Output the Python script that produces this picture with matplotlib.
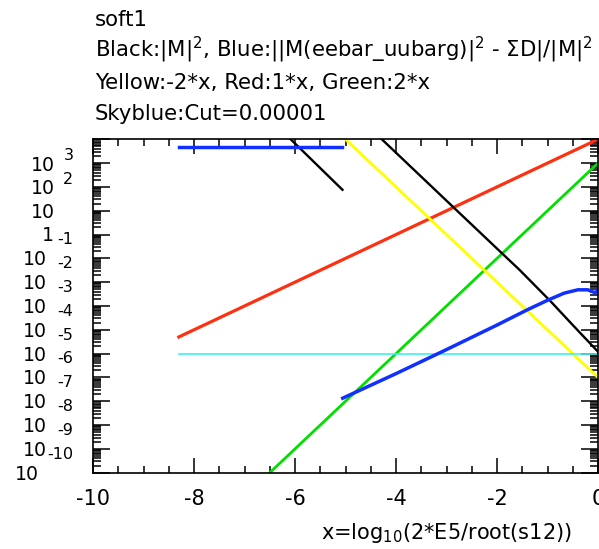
import numpy as np
import matplotlib
matplotlib.use('Agg')
import matplotlib.pyplot as plt
from matplotlib.ticker import MultipleLocator, LogLocator, NullFormatter
import matplotlib.transforms as mtransforms

plt.rcParams['font.family'] = ['DejaVu Sans']
plt.rcParams['axes.unicode_minus'] = False

# данные (x, log10(y))
blue1_x = [-8.30, -5.06]
blue1_log = [3.665, 3.665]
blue2_x = [-5.055, -4.0, -3.0, -2.0, -1.40, -1.0, -0.67, -0.40, -0.20, -0.05, 0.0]
blue2_log = [-6.87, -5.84, -4.83, -3.80, -3.16, -2.76, -2.46, -2.32, -2.32, -2.45, -2.30]
black1_x = [-8.30, -6.07, -5.06]
black1_log = [8.6, 3.97, 1.88]
black2_x = [-5.06, -4.28, -2.86, -1.90, -1.56, -0.94, -0.50, 0.0]
black2_log = [5.55, 4.0, 1.14, -0.79, -1.47, -2.80, -3.80, -4.92]
yellow_x = [-5.0, 0.0]
yellow_log = [4.0, -6.0]
red_x = [-8.30, 0.0]
red_log = [-4.30, 4.0]
green_x = [-8.30, 0.0]
green_log = [-13.6, 3.0]
cut_x = [-8.30, 0.0]
cut_log = [-5.0, -5.0]

decades = list(range(-10, 4))

W, H = 599, 549
fig = plt.figure(figsize=(W / 100, H / 100), dpi=100)
ax = fig.add_axes([93 / W, 76.3 / H, 505 / W, 333.4 / H])

ax.plot(red_x, np.power(10.0, red_log), color='#ff3010', lw=2.3)
ax.plot(green_x, np.power(10.0, green_log), color='#00e000', lw=2.0)
ax.plot(yellow_x, np.power(10.0, yellow_log), color='#ffff00', lw=2.0)
ax.plot(cut_x, np.power(10.0, cut_log), color='#40f0f0', lw=1.2)
ax.plot(black1_x, np.power(10.0, black1_log), color='black', lw=1.7)
ax.plot(black2_x, np.power(10.0, black2_log), color='black', lw=1.7)
ax.plot(blue1_x, np.power(10.0, blue1_log), color='#1030ff', lw=2.5)
ax.plot(blue2_x, np.power(10.0, blue2_log), color='#1030ff', lw=2.5)

ax.set_yscale('log')
ax.set_xlim(-10, 0)
ax.set_ylim(1e-10, 1e4)

ax.xaxis.set_major_locator(MultipleLocator(2))
ax.xaxis.set_minor_locator(MultipleLocator(0.5))
ax.yaxis.set_major_locator(LogLocator(base=10, numticks=30))
ax.yaxis.set_minor_locator(LogLocator(base=10, subs=np.arange(2, 10), numticks=30))
ax.yaxis.set_minor_formatter(NullFormatter())
ax.set_yticklabels([])

ax.tick_params(axis='both', which='both', direction='in', top=True, right=True, width=1.1)
ax.tick_params(axis='x', which='major', length=11, labelsize=15, pad=12)
ax.tick_params(axis='x', which='minor', length=5)
ax.tick_params(axis='y', which='major', length=12)
ax.tick_params(axis='y', which='minor', length=6)
for sp in ax.spines.values():
    sp.set_linewidth(1.2)

# подписи оси y в стиле ROOT (показатели степени съехали на декаду вверх)
trans = ax.get_yaxis_transform()
def fx(px):
    return (px - 93) / 505.0

def shifted(dy):
    # dy в пикселях вниз
    return mtransforms.offset_copy(trans, fig=fig, y=-dy, units='dots')

base_fs = 13.6
exp_fs = 11.5
for k in decades:
    y = 10.0 ** k
    if k == 0:
        ax.text(fx(54), y, '1', transform=shifted(6.9), ha='right', va='baseline',
                fontsize=base_fs, clip_on=False)
    elif k >= 1:
        ax.text(fx(55), y, '10', transform=shifted(7.5), ha='right', va='baseline',
                fontsize=base_fs, clip_on=False)
        if k > 1:
            ax.text(fx(73.5), y, str(k), transform=shifted(-9 + 5.8), ha='right',
                    va='baseline', fontsize=exp_fs, clip_on=False)
    else:
        base_r = 38.5 if k == -10 else 46.7
        ax.text(fx(base_r), y, '10', transform=shifted(6.9), ha='right', va='baseline',
                fontsize=base_fs, clip_on=False)
        ax.text(fx(73.5), 10.0 ** (k + 1), str(k), transform=shifted(4 + 5.8),
                ha='right', va='baseline', fontsize=exp_fs, clip_on=False)

fig.text(320.7 / W, 1 - 539.3 / H, r'x=log$_{10}$(2*E5/root(s12))', ha='left',
         va='baseline', fontsize=15)

titles = ['soft1',
          r'Black:|M|$^2$, Blue:||M(eebar_uubarg)|$^2$ - ΣD|/|M|$^2$',
          'Yellow:-2*x, Red:1*x, Green:2*x',
          'Skyblue:Cut=0.00001']
for t, yy in zip(titles, [25.5, 56.5, 88.5, 120]):
    fig.text(95 / W, 1 - yy / H, t, ha='left', va='baseline', fontsize=15.3)

fig.savefig('out.png', dpi=100)
